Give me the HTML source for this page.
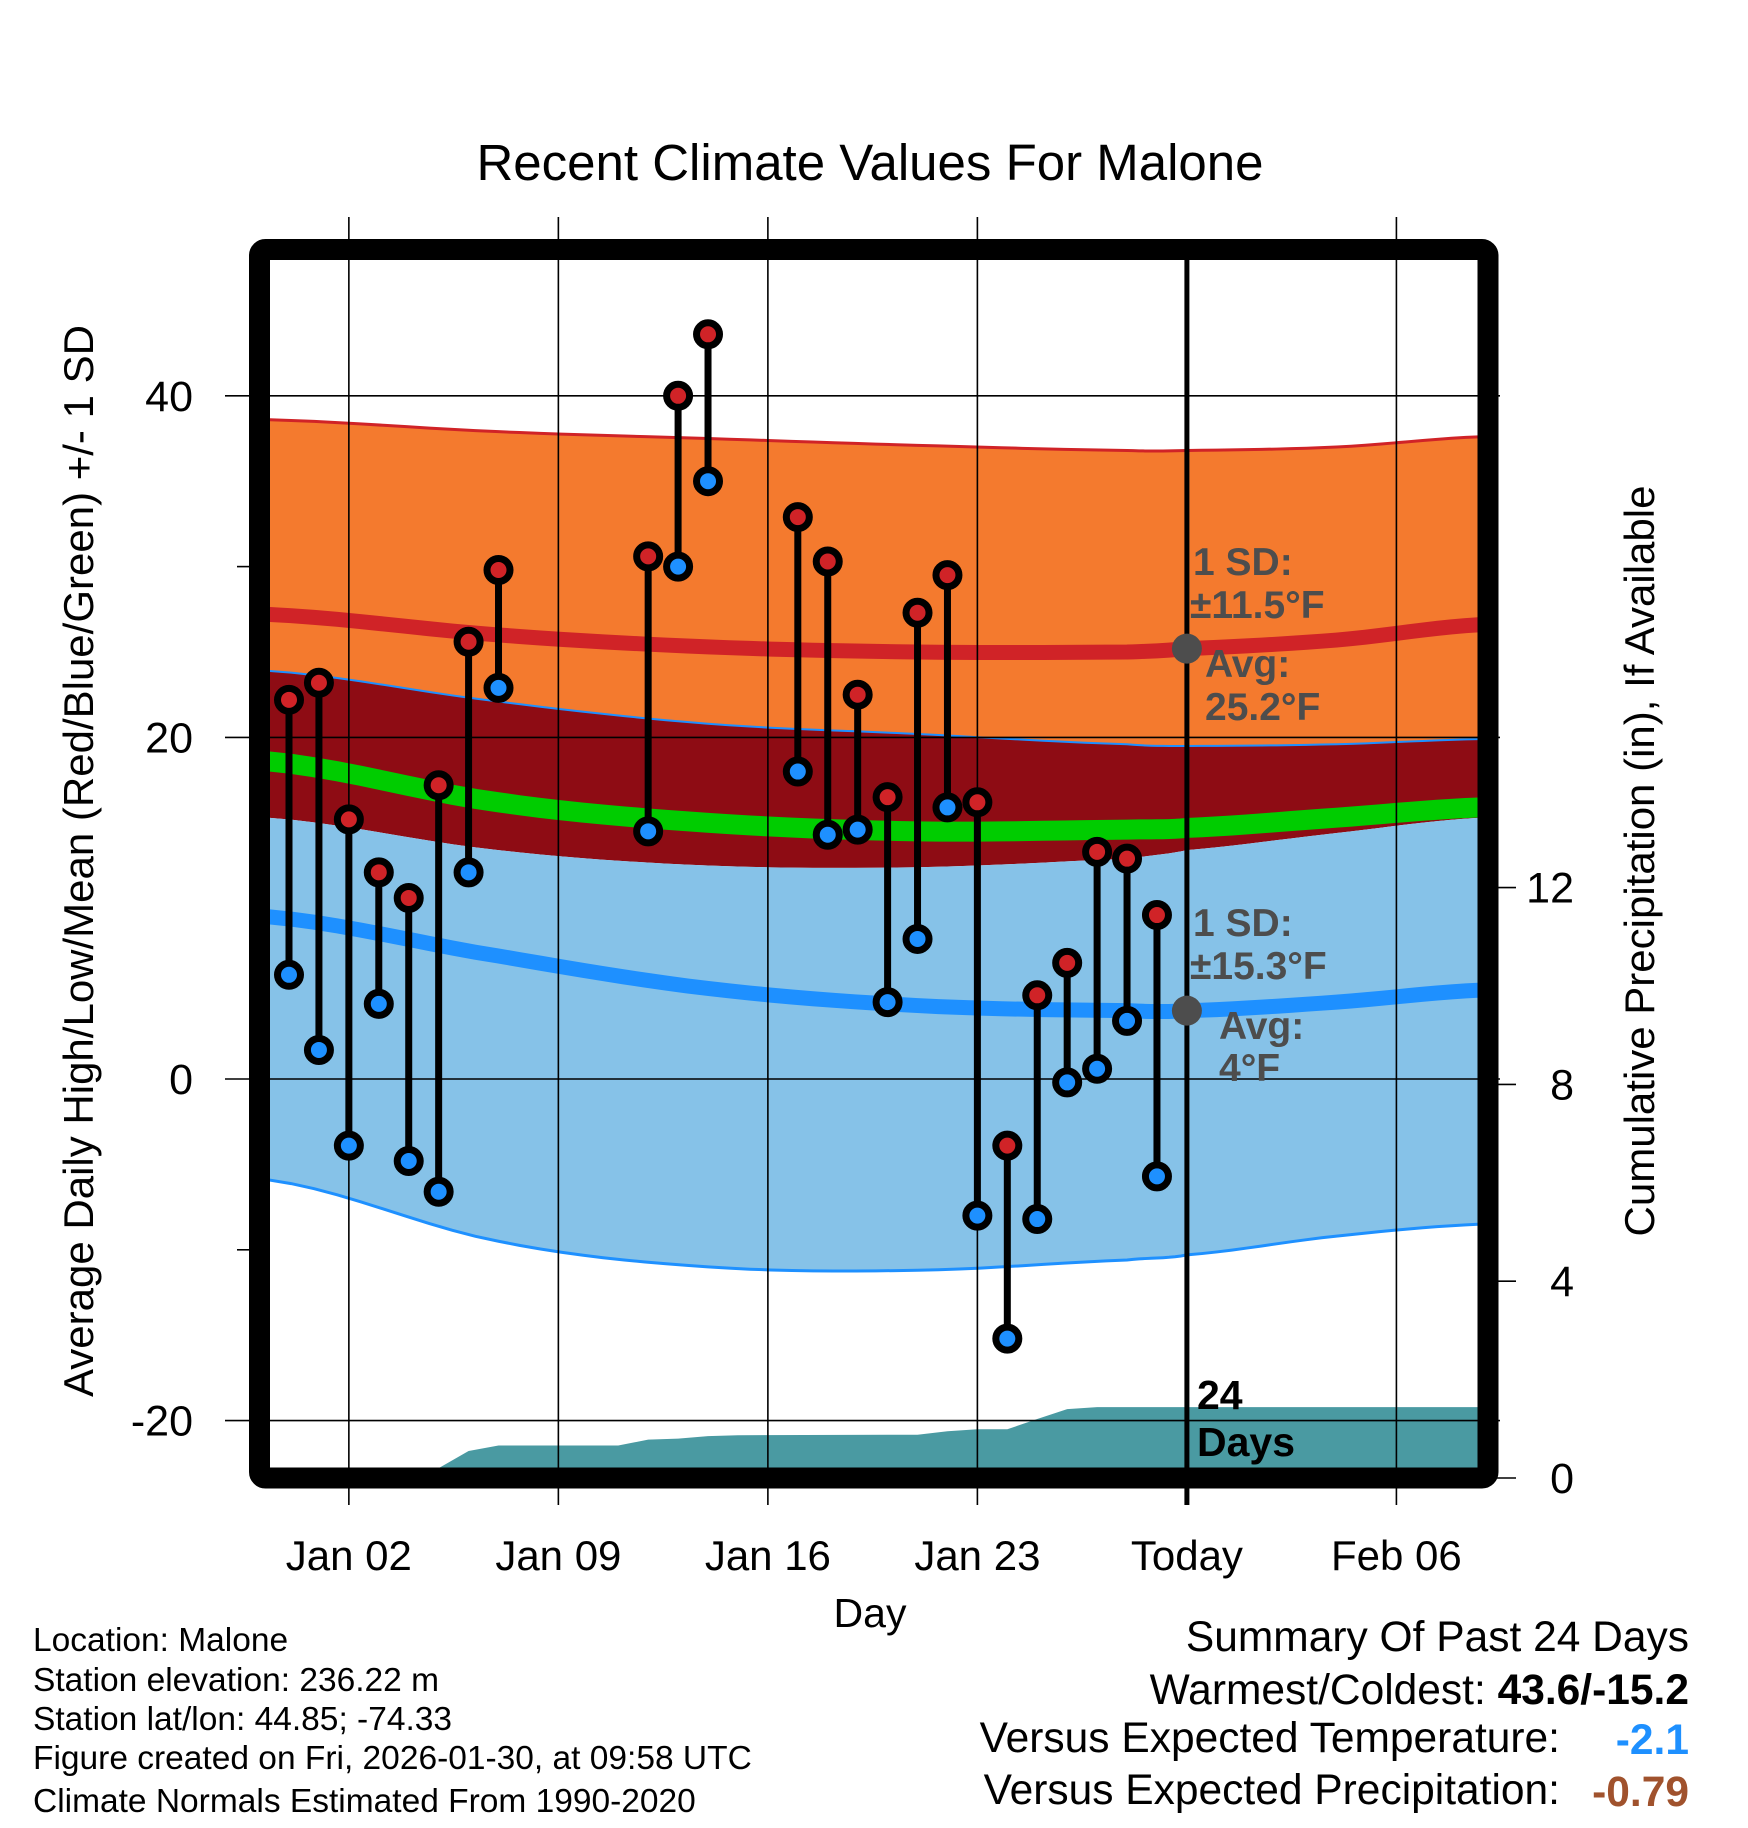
<!DOCTYPE html>
<html><head><meta charset="utf-8">
<style>
html,body{margin:0;padding:0;background:#fff;}
svg{display:block;font-family:"Liberation Sans",sans-serif;}
</style></head>
<body>
<svg id="chart" width="1748" height="1828" viewBox="0 0 1748 1828" xmlns="http://www.w3.org/2000/svg">
<text x="870" y="180" font-size="51" text-anchor="middle">Recent Climate Values For Malone</text>
<g id="plot"></g>
<text x="870" y="1627" font-size="41" text-anchor="middle">Day</text>
<text transform="translate(93,861) rotate(-90)" font-size="42" text-anchor="middle">Average Daily High/Low/Mean (Red/Blue/Green) +/- 1 SD</text>
<text transform="translate(1654,861) rotate(-90)" font-size="42" text-anchor="middle">Cumulative Precipitation (in), If Available</text>
<g font-size="33.5">
<text x="33" y="1651">Location: Malone</text>
<text x="33" y="1691">Station elevation: 236.22 m</text>
<text x="33" y="1730">Station lat/lon: 44.85; -74.33</text>
<text x="33" y="1769">Figure created on Fri, 2026-01-30, at 09:58 UTC</text>
<text x="33" y="1812">Climate Normals Estimated From 1990-2020</text>
</g>
<g font-size="42.5">
<text x="1689" y="1651" text-anchor="end">Summary Of Past 24 Days</text>
<text x="1689" y="1704" text-anchor="end">Warmest/Coldest: <tspan font-weight="bold">43.6/-15.2</tspan></text>
<text x="1560" y="1752" text-anchor="end">Versus Expected Temperature:</text>
<text x="1689" y="1754" text-anchor="end" fill="#1e90ff" font-weight="bold">-2.1</text>
<text x="1560" y="1804" text-anchor="end">Versus Expected Precipitation:</text>
<text x="1689" y="1806" text-anchor="end" fill="#a0522d" font-weight="bold">-0.79</text>
</g>
</svg>
<script>
// ---- data ----
const obsDays = [0,1,2,3,4,5,6,7,12,13,14,17,18,19,20,21,22,23,24,25,26,27,28,29];
const highs = [22.2,23.2,15.2,12.1,10.6,17.2,25.6,29.8,30.6,40.0,43.6,32.9,30.3,22.5,16.5,27.3,29.5,16.2,-3.9,4.9,6.8,13.3,12.9,9.6];
const lows = [6.1,1.7,-3.9,4.4,-4.8,-6.6,12.1,22.9,14.5,30.0,35.0,18.0,14.3,14.6,4.5,8.2,15.9,-8.0,-15.2,-8.2,-0.2,0.6,3.4,-5.7];
const normDays = [-0.7,7,14,21,28,30,35,39.8];
const highPlusSD = [38.6,37.9,37.5,37.1,36.8,36.8,37.0,37.6];
const avgHigh = [27.2,26.0,25.3,25.0,25.0,25.2,25.7,26.6];
const highMinusSD = [23.9,22.1,20.8,20.2,19.6,19.5,19.6,19.9];
const avgMean = [18.6,16.2,15.0,14.5,14.6,14.7,15.3,15.9];
const lowPlusSD = [15.3,13.4,12.5,12.4,12.9,13.4,14.4,15.3];
const avgLow = [9.5,7.2,5.3,4.3,4.0,4.0,4.5,5.2];
const lowMinusSD = [-5.9,-9.5,-11.0,-11.2,-10.6,-10.3,-9.2,-8.5];
const precipDays = [-0.7,4.5,5,6,7,11,12,13,14,15,21,22,23,24,25,26,27,39.8];
const precipVals = [0,0,0.2,0.55,0.66,0.66,0.78,0.8,0.85,0.87,0.88,0.95,0.99,0.99,1.2,1.4,1.44,1.44];
const xTickDays = [2,9,16,23,30,37];
const xTickLabels = ["Jan 02","Jan 09","Jan 16","Jan 23","Today","Feb 06"];
const yTicks = [40,20,0,-20];
const yMinor = [30,-10];
const y2Ticks = [0,4,8,12];

// ---- scales ----
const X0=270,X1=1478,Y0=260,Y1=1468;
const x = d => 289 + d*29.93;
const y = v => 1079 - v*17.08;
const yp = v => 1478 - v*49.2;
const NS="http://www.w3.org/2000/svg";
const plot=document.getElementById('plot');
function mk(tag,attrs,parent){const e=document.createElementNS(NS,tag);for(const k in attrs)e.setAttribute(k,attrs[k]);(parent||plot).appendChild(e);return e;}
// smooth sampled points through normals (Catmull-Rom in data space)
function smooth(arr){
  const pts=[];const n=normDays.length;
  for(let i=0;i<n-1;i++){
    const p0=i>0?i-1:i,p3=i+2<n?i+2:i+1;
    for(let s=0;s<10;s++){
      const t=s/10,t2=t*t,t3=t2*t;
      const cr=(a,b,c,d)=>0.5*((2*b)+(-a+c)*t+(2*a-5*b+4*c-d)*t2+(-a+3*b-3*c+d)*t3);
      const dd=normDays[i]+(normDays[i+1]-normDays[i])*t;
      const v=cr(arr[p0],arr[i],arr[i+1],arr[p3]);
      pts.push([x(dd),y(v)]);
    }
  }
  pts.push([x(normDays[n-1]),y(arr[n-1])]);
  return pts;
}
function band(top,bot){const a=smooth(top),b=smooth(bot).reverse();return a.concat(b).map(p=>p[0]+','+p[1]).join(' ');}
function line(arr){return smooth(arr).map(p=>p[0]+','+p[1]).join(' ');}

const defs=mk('defs',{});
const cp=mk('clipPath',{id:'clip'},defs);
mk('rect',{x:X0,y:Y0,width:X1-X0,height:Y1-Y0},cp);
const g=mk('g',{'clip-path':'url(#clip)'});

let e;
e=mk('polygon',{points:band(highPlusSD,highMinusSD),fill:'#f47a2e'},g);


e=mk('polygon',{points:band(highMinusSD,lowPlusSD),fill:'#8e0c14'},g);


e=mk('polygon',{points:band(lowPlusSD,lowMinusSD),fill:'#86c2e8'},g);


e=mk('polyline',{points:line(highPlusSD),fill:'none',stroke:'#d02327',"stroke-width":3},g);


e=mk('polyline',{points:line(highMinusSD),fill:'none',stroke:'#1e90ff',"stroke-width":2},g);


e=mk('polyline',{points:line(lowMinusSD),fill:'none',stroke:'#1e90ff',"stroke-width":3},g);


e=mk('polyline',{points:line(avgHigh),fill:'none',stroke:'#d02327',"stroke-width":15},g);


e=mk('polyline',{points:line(avgMean),fill:'none',stroke:'#00cc00',"stroke-width":20},g);


e=mk('polyline',{points:line(avgLow),fill:'none',stroke:'#1e90ff',"stroke-width":15},g);



// precipitation
let pp=precipDays.map((d,i)=>x(d)+','+yp(precipVals[i]));
pp.push(x(39.8)+','+yp(0),x(-0.7)+','+yp(0));
e=mk('polygon',{points:pp.join(' '),fill:'#4a9aa2'},g);



// grid lines
xTickDays.forEach((d,i)=>{
  if(i===4)return;
  const l=mk('line',{x1:x(d),x2:x(d),y1:217,y2:1505,stroke:'#000',"stroke-width":1.6});
  
  
});
yTicks.forEach(v=>{
  const l=mk('line',{x1:225,x2:1500,y1:y(v),y2:y(v),stroke:'#000',"stroke-width":1.6});
  
  
});
yMinor.forEach(v=>{
  const l=mk('line',{x1:237,x2:249,y1:y(v),y2:y(v),stroke:'#000',"stroke-width":1.6});
  
  
});
y2Ticks.forEach(v=>{
  const l=mk('line',{x1:1488,x2:1516,y1:yp(v),y2:yp(v),stroke:'#000',"stroke-width":1.6});
  
  
});
// today line
e=mk('line',{x1:x(30),x2:x(30),y1:Y0,y2:1505,stroke:'#000',"stroke-width":5});



// observations
obsDays.forEach((d,i)=>{
  const s=mk('line',{x1:x(d),x2:x(d),y1:y(highs[i]),y2:y(lows[i]),stroke:'#000',"stroke-width":7});
  
  
});
obsDays.forEach((d,i)=>{
  const h=mk('circle',{cx:x(d),cy:y(highs[i]),r:11.5,fill:'#d02327',stroke:'#000',"stroke-width":7});
  
  
  const l=mk('circle',{cx:x(d),cy:y(lows[i]),r:11.5,fill:'#1e90ff',stroke:'#000',"stroke-width":7});
  
  
});

// annotations
const tx=x(30);
e=mk('circle',{cx:tx,cy:y(avgHigh[5]),r:15,fill:'#4d4d4d'});


e=mk('circle',{cx:tx,cy:y(avgLow[5]),r:15,fill:'#4d4d4d'});


const ann=[["1 SD:",1193,575],["\u00b111.5\u00b0F",1190,618],["Avg:",1205,677],["25.2\u00b0F",1205,720],
["1 SD:",1193,936],["\u00b115.3\u00b0F",1190,979],["Avg:",1219,1039],["4\u00b0F",1219,1081]];
ann.forEach(a=>{
  const t=mk('text',{x:a[1],y:a[2],"font-size":39,"font-weight":"bold",fill:'#4d4d4d'});
  t.textContent=a[0];
  
  
});
[["24",1409],["Days",1456]].forEach(a=>{
  const t=mk('text',{x:1197,y:a[1],"font-size":41,"font-weight":"bold",fill:'#000'});
  t.textContent=a[0];
  
  
});

// frame
e=mk('rect',{x:259.5,y:249.5,width:1228.5,height:1228.5,fill:'none',stroke:'#000',"stroke-width":21,rx:6});



// tick labels
xTickDays.forEach((d,i)=>{
  const t=mk('text',{x:x(d),y:1570,"font-size":42,"text-anchor":"middle"});
  t.textContent=xTickLabels[i];
  
  
});
yTicks.forEach(v=>{
  const t=mk('text',{x:193,y:y(v)+15,"font-size":43,"text-anchor":"end"});
  t.textContent=v;
  
  
});
y2Ticks.forEach(v=>{
  const t=mk('text',{x:1574,y:yp(v)+15,"font-size":43,"text-anchor":"end"});
  t.textContent=v;
  
  
});
</script>
</body></html>
